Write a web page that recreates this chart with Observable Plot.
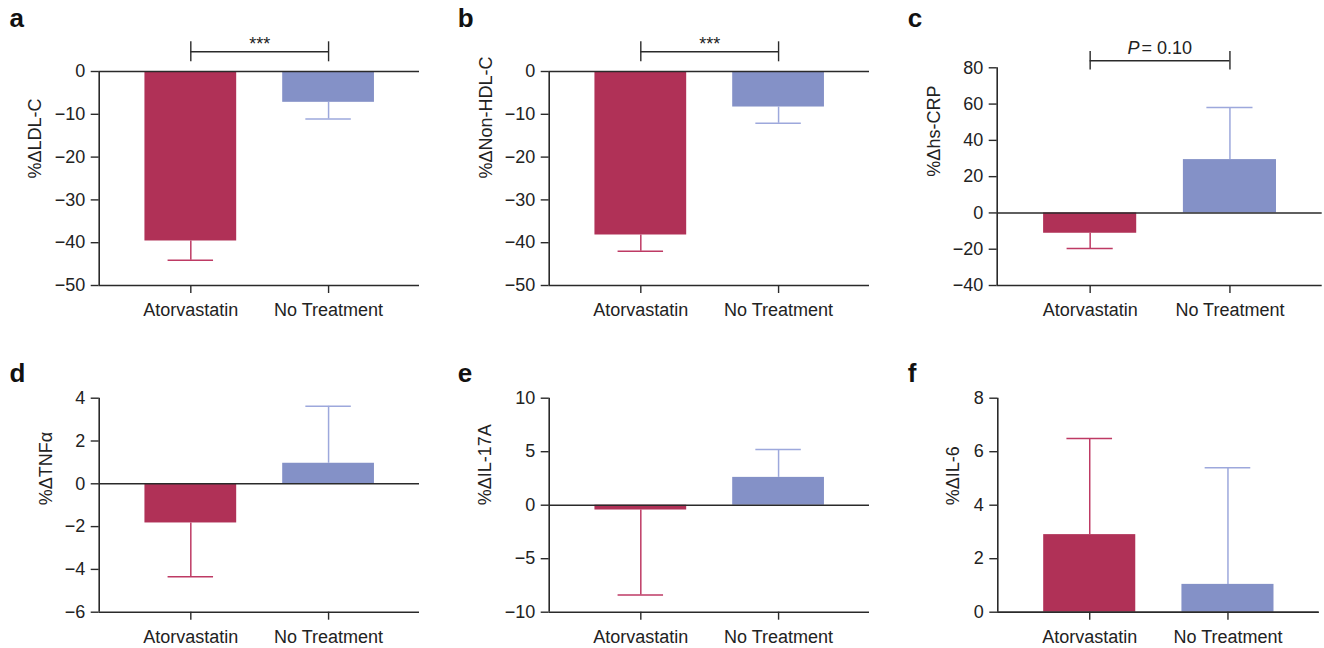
<!DOCTYPE html>
<html><head><meta charset="utf-8">
<script src="https://cdn.jsdelivr.net/npm/d3@7"></script>
<script src="https://cdn.jsdelivr.net/npm/@observablehq/plot@0.6"></script>
<style>
body{margin:0;background:#fff;}
#fig{position:relative;width:1324px;height:648px;overflow:hidden;font-family:"Liberation Sans",Arial,Helvetica,sans-serif;}
.panel{position:absolute;}
.letter{position:absolute;font:bold 26px/26px "Liberation Sans",Arial,sans-serif;color:#111;}
</style></head><body><div id="fig"></div>
<script>
// ---- data ----
const groups = ["Atorvastatin", "No Treatment"];
const letters = ["a", "b", "c", "d", "e", "f"];
const yTitles = ["%ΔLDL-C", "%ΔNon-HDL-C", "%Δhs-CRP", "%ΔTNFα", "%ΔIL-17A", "%ΔIL-6"];
const ldlMean = [-39.6, -7.2],     ldlErr = [4.5, 3.9];
const nonHdlMean = [-38.2, -8.3],  nonHdlErr = [3.8, 3.8];
const crpMean = [-11.2, 29.4],     crpErr = [8.4, 28.7];
const tnfMean = [-1.83, 0.96],     tnfErr = [2.51, 2.66];
const il17Mean = [-0.45, 2.6],     il17Err = [7.95, 2.6];
const il6Mean = [2.9, 1.04],       il6Err = [3.59, 4.36];
const yDomains = [[-50, 0], [-50, 0], [-40, 80], [-6, 4], [-10, 10], [0, 8]];
const yTickSteps = [10, 10, 20, 2, 5, 2];
const comparisons = ["***", "***", "P = 0.10", null, null, null];

const means = [ldlMean, nonHdlMean, crpMean, tnfMean, il17Mean, il6Mean];
const errs = [ldlErr, nonHdlErr, crpErr, tnfErr, il17Err, il6Err];

// ---- layout & style ----
const layout = [
  {left: 0,   top: 0,   w: 440, h: 330, mL: 98.7,  mR: 21,  mT: 71,   mB: 45,   tdx: -64,   bdy: -19.7, bh: 10},
  {left: 440, top: 0,   w: 440, h: 330, mL: 108.7, mR: 11,  mT: 71,   mB: 45,   tdx: -63.2, bdy: -19.7, bh: 10},
  {left: 880, top: 0,   w: 444, h: 330, mL: 116.7, mR: 2.3, mT: 67.3, mB: 45,   tdx: -62.8, bdy: -7,    bh: 9.3},
  {left: 0,   top: 330, w: 440, h: 318, mL: 98.7,  mR: 21,  mT: 67.7, mB: 36.3, tdx: -53.2},
  {left: 440, top: 330, w: 440, h: 318, mL: 108.7, mR: 11,  mT: 67.7, mB: 36.3, tdx: -63.8},
  {left: 880, top: 330, w: 444, h: 318, mL: 117.3, mR: 5.3, mT: 67.7, mB: 36.3, tdx: -44.1}
];
const letterPos = [[9.5, 4.7], [457.8, 4.7], [907.8, 4.7], [9.5, 359.7], [457.8, 359.7], [907.8, 359.7]];
const barFill = ["#B03157", "#8491C7"];
const errStroke = ["#BE3A64", "#9DA8DC"];
const axisColor = "#2a2a2a";
const FONT = "'Liberation Sans', Arial, Helvetica, sans-serif";
const xDomain = [-0.665, 1.66];
const barHalf = 0.333, capHalf = 0.165;

const fig = document.getElementById("fig");

letters.forEach((L, p) => {
  const lay = layout[p];
  const [y0, y1] = yDomains[p];
  const rows = groups.map((g, i) => {
    const m = means[p][i];
    const sgn = m < 0 ? -1 : 1;
    return {i, g, mean: m, end: m + sgn * errs[p][i]};
  });
  const ticks = d3.range(y0, y1 + yTickSteps[p] / 2, yTickSteps[p]);
  const marks = [
    Plot.rect(rows, {x1: d => d.i - barHalf, x2: d => d.i + barHalf, y1: 0, y2: "mean", fill: d => barFill[d.i]}),
    Plot.ruleX(rows, {x: "i", y1: "mean", y2: "end", stroke: d => errStroke[d.i], strokeWidth: 1.5}),
    Plot.ruleY(rows, {y: "end", x1: d => d.i - capHalf, x2: d => d.i + capHalf, stroke: d => errStroke[d.i], strokeWidth: 1.5}),
    Plot.ruleY([0], {stroke: axisColor, strokeWidth: 1.4}),
    Plot.ruleY([y0], {stroke: axisColor, strokeWidth: 1.6}),
    Plot.ruleX([xDomain[0]], {stroke: axisColor, strokeWidth: 1.6}),
    Plot.axisY({ticks, tickSize: 8, tickPadding: 6, label: null, fontSize: 18, stroke: axisColor, strokeWidth: 1.4}),
    Plot.axisX({ticks: [0, 1], tickFormat: i => groups[i], tickSize: 8, tickPadding: 10, label: null, fontSize: 18, stroke: axisColor, strokeWidth: 1.4}),
    Plot.text([yTitles[p]], {frameAnchor: "left", dx: lay.tdx, rotate: -90, fontSize: 18, fill: "#222"})
  ];
  const cmp = comparisons[p];
  if (cmp) {
    marks.push(
      Plot.ruleY([y1], {x1: 0, x2: 1, dy: lay.bdy, stroke: axisColor, strokeWidth: 1.4}),
      Plot.ruleX([0, 1], {x: d => d, y1: y1, y2: y1, dy: lay.bdy, insetTop: -lay.bh, insetBottom: -lay.bh, stroke: axisColor, strokeWidth: 1.4})
    );
    if (cmp.startsWith("P")) {
      marks.push(
        Plot.text(["P"], {x: 0.5, y: y1, dy: lay.bdy - 7, dx: -20.5, textAnchor: "end", lineAnchor: "bottom", fontSize: 18, fontStyle: "italic", fill: "#222"}),
        Plot.text([cmp.slice(2)], {x: 0.5, y: y1, dy: lay.bdy - 7, dx: -18.5, textAnchor: "start", lineAnchor: "bottom", fontSize: 18, fill: "#222"})
      );
    } else {
      marks.push(Plot.text([cmp], {x: 0.5, y: y1, dy: lay.bdy - 2.3, lineAnchor: "bottom", fontSize: 18, fill: "#222"}));
    }
  }
  const svg = Plot.plot({
    width: lay.w, height: lay.h,
    marginLeft: lay.mL, marginRight: lay.mR, marginTop: lay.mT, marginBottom: lay.mB,
    x: {type: "linear", domain: xDomain},
    y: {domain: [y0, y1]},
    style: {fontFamily: FONT, fontSize: "18px", color: "#222", background: "transparent", overflow: "visible"},
    marks
  });
  const wrap = document.createElement("div");
  wrap.className = "panel";
  wrap.style.left = lay.left + "px";
  wrap.style.top = lay.top + "px";
  wrap.appendChild(svg);
  fig.appendChild(wrap);

  const lt = document.createElement("div");
  lt.className = "letter";
  lt.textContent = L;
  lt.style.left = letterPos[p][0] + "px";
  lt.style.top = letterPos[p][1] + "px";
  fig.appendChild(lt);
});
</script>
</body></html>
